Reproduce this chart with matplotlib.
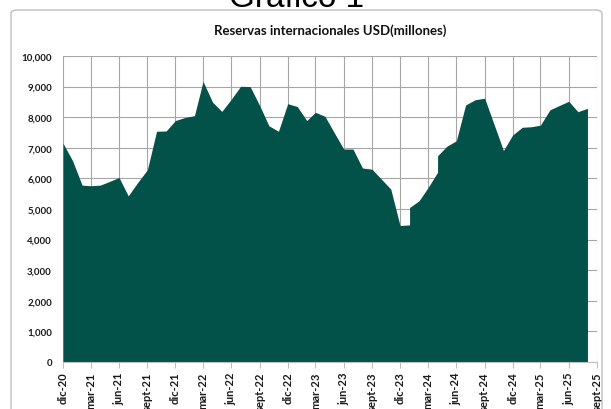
import matplotlib
matplotlib.use("Agg")
from matplotlib import pyplot as plt
from matplotlib.patches import FancyBboxPatch
import pandas as pd

# Monthly reserves (USD millions); a month listed twice is a second reading in the same month
meses = [
    "2020-12", "2021-01", "2021-02", "2021-03", "2021-04", "2021-05", "2021-06",
    "2021-07", "2021-08", "2021-09", "2021-10", "2021-11", "2021-12",
    "2022-01", "2022-02", "2022-03", "2022-04", "2022-05", "2022-06",
    "2022-07", "2022-08", "2022-09", "2022-10", "2022-11", "2022-12",
    "2023-01", "2023-02", "2023-03", "2023-04", "2023-05", "2023-06",
    "2023-07", "2023-08", "2023-09", "2023-10", "2023-11", "2023-12",
    "2024-01", "2024-01", "2024-02", "2024-03", "2024-04", "2024-04",
    "2024-05", "2024-06", "2024-07", "2024-08", "2024-09", "2024-10",
    "2024-11", "2024-12", "2025-01", "2025-02", "2025-03", "2025-04",
    "2025-05", "2025-06", "2025-07", "2025-08",
]
reservas = [
    7150, 6580, 5780, 5760, 5780, 5900, 6030,
    5430, 5870, 6280, 7540, 7550, 7890,
    7990, 8050, 9170, 8490, 8190, 8590,
    9010, 9000, 8380, 7720, 7540, 8440,
    8350, 7890, 8160, 8030, 7500, 6960,
    6960, 6340, 6300, 5980, 5650, 4460,
    4480, 5050, 5270, 5700, 6200, 6740,
    7050, 7230, 8400, 8570, 8620, 7780,
    6910, 7420, 7670, 7690, 7740, 8240,
    8380, 8520, 8180, 8290,
]
tick_meses = [
    "2020-12", "2021-03", "2021-06", "2021-09", "2021-12", "2022-03", "2022-06",
    "2022-09", "2022-12", "2023-03", "2023-06", "2023-09", "2023-12", "2024-03",
    "2024-06", "2024-09", "2024-12", "2025-03", "2025-06", "2025-09",
]
tick_labels = [
    "dic-20", "mar-21", "jun-21", "sept-21", "dic-21", "mar-22", "jun-22",
    "sept-22", "dic-22", "mar-23", "jun-23", "sept-23", "dic-23", "mar-24",
    "jun-24", "sept-24", "dic-24", "mar-25", "jun-25", "sept-25",
]

fechas = pd.to_datetime(meses)
ticks = pd.to_datetime(tick_meses)

plt.rcParams["font.family"] = ["Lato", "DejaVu Sans"]

fig = plt.figure(figsize=(6.11, 4.10), dpi=100)
ax = fig.add_axes([63 / 611, 47 / 410, 534 / 611, 306 / 410])

# chart frame (rounded, grey)
fig.patches.append(FancyBboxPatch((11 / 611, -0.05), 591 / 611, 1.0 - 11 / 410 + 0.05,
                                  boxstyle="round,pad=0,rounding_size=0.01",
                                  transform=fig.transFigure, fill=False,
                                  edgecolor="#bfbfbf", linewidth=1.0))

ax.fill_between(fechas, reservas, 0, color="#03524a", linewidth=0, zorder=2)

ax.set_xlim(ticks[0], ticks[-1])
ax.set_ylim(0, 10000)
ax.set_yticks(range(0, 10001, 1000))
ax.set_yticklabels([f"{v:,}" for v in range(0, 10001, 1000)],
                   fontsize=7, fontweight="bold", color="#1a1a1a")
ax.set_xticks(ticks)
ax.set_xticklabels(tick_labels, rotation=90, fontsize=8, fontweight="bold",
                   color="#1a1a1a")
ax.tick_params(axis="y", length=0, pad=8)
ax.tick_params(axis="x", length=4, color="#bfbfbf", pad=3)

ax.grid(True, color="#a6a6a6", linewidth=0.8, zorder=0)
ax.set_axisbelow(True)
for side in ["top", "right", "left"]:
    ax.spines[side].set_visible(False)
ax.spines["bottom"].set_color("#bfbfbf")

ax.set_title("Reservas internacionales USD(millones)", fontsize=9.5,
             fontweight="bold", color="#111111", pad=16)

# page heading, cut off by the top edge as in the source
fig.text(297 / 611, 1 - 7 / 410, "Gráfico 1", fontsize=24,
         family="Liberation Sans", ha="center", va="baseline")

fig.savefig("out.png", dpi=100)
